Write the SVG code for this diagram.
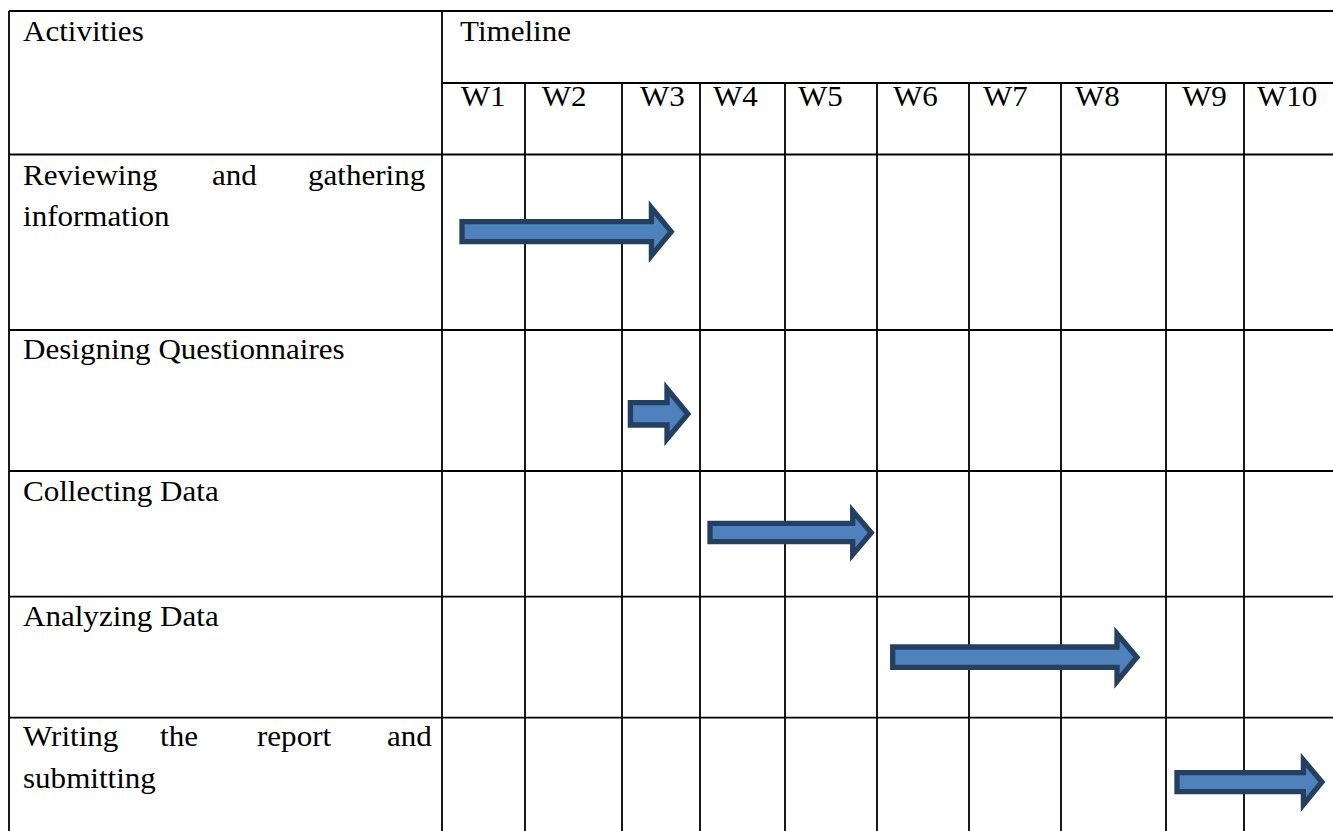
<svg xmlns="http://www.w3.org/2000/svg" width="1333" height="831" viewBox="0 0 1333 831">
<style>
.t{font-family:"Liberation Serif","Times New Roman",serif;font-size:28.5px;fill:#000}
.g line{stroke:#000;stroke-width:1.8}
.arr{fill:#4F81BD;stroke:#243F60;stroke-width:5.3;stroke-linejoin:miter;stroke-miterlimit:10}
</style>
<rect x="0" y="0" width="1333" height="831" fill="#fff"/>
<g id="grid" class="g">
<line x1="9" y1="11" x2="1333" y2="11"/>
<line x1="442" y1="83" x2="1333" y2="83"/>
<line x1="9" y1="154.5" x2="1333" y2="154.5"/>
<line x1="9" y1="330" x2="1333" y2="330"/>
<line x1="9" y1="471" x2="1333" y2="471"/>
<line x1="9" y1="596.7" x2="1333" y2="596.7"/>
<line x1="9" y1="717.7" x2="1333" y2="717.7"/>
<line x1="9" y1="11" x2="9" y2="831"/>
<line x1="442" y1="11" x2="442" y2="831"/>
<line x1="525" y1="83" x2="525" y2="831"/>
<line x1="622" y1="83" x2="622" y2="831"/>
<line x1="700" y1="83" x2="700" y2="831"/>
<line x1="785" y1="83" x2="785" y2="831"/>
<line x1="877" y1="83" x2="877" y2="831"/>
<line x1="969" y1="83" x2="969" y2="831"/>
<line x1="1061" y1="83" x2="1061" y2="831"/>
<line x1="1166" y1="83" x2="1166" y2="831"/>
<line x1="1244" y1="83" x2="1244" y2="831"/>
</g>
<g id="header">
<text class="t" transform="translate(23 41) scale(1.09 1)">Activities</text>
<text class="t" transform="translate(460 41) scale(1.09 1)">Timeline</text>
<text class="t" transform="translate(460.7 106) scale(1.09 1)">W1</text>
<text class="t" transform="translate(541.7 106) scale(1.09 1)">W2</text>
<text class="t" transform="translate(640 106) scale(1.09 1)">W3</text>
<text class="t" transform="translate(713 106) scale(1.09 1)">W4</text>
<text class="t" transform="translate(798 106) scale(1.09 1)">W5</text>
<text class="t" transform="translate(893 106) scale(1.09 1)">W6</text>
<text class="t" transform="translate(983 106) scale(1.09 1)">W7</text>
<text class="t" transform="translate(1075 106) scale(1.09 1)">W8</text>
<text class="t" transform="translate(1182 106) scale(1.09 1)">W9</text>
<text class="t" transform="translate(1257 106) scale(1.09 1)">W10</text>
</g>
<g id="row1">
<text class="t" transform="translate(23 185) scale(1.09 1)">Reviewing</text>
<text class="t" transform="translate(212 185) scale(1.09 1)">and</text>
<text class="t" transform="translate(308 185) scale(1.09 1)">gathering</text>
<text class="t" transform="translate(23 226) scale(1.09 1)">information</text>
</g>
<g id="row2">
<text class="t" transform="translate(23 359) scale(1.09 1)">Designing Questionnaires</text>
</g>
<g id="row3">
<text class="t" transform="translate(23 501) scale(1.09 1)">Collecting Data</text>
</g>
<g id="row4">
<text class="t" transform="translate(23 626) scale(1.09 1)">Analyzing Data</text>
</g>
<g id="row5">
<text class="t" transform="translate(23 746) scale(1.09 1)">Writing</text>
<text class="t" transform="translate(160 746) scale(1.09 1)">the</text>
<text class="t" transform="translate(257 746) scale(1.09 1)">report</text>
<text class="t" transform="translate(387 746) scale(1.09 1)">and</text>
<text class="t" transform="translate(23 788) scale(1.09 1)">submitting</text>
</g>
<g id="connectors">
<path class="arr" d="M462,221.7 H651.4 V207.7 L671.2,231.7 L651.4,255.6 V241.6 H462 Z"/>
<path class="arr" d="M630.4,402.7 H667 V388.7 L687.9,414 L667,439 V425 H630.4 Z"/>
<path class="arr" d="M710,523.4 H852.7 V511 L871.2,532.7 L852.7,554.6 V541.6 H710 Z"/>
<path class="arr" d="M892.7,647 H1117 V633.7 L1136.9,657.3 L1117,681.3 V667.3 H892.7 Z"/>
<path class="arr" d="M1177,772.7 H1303.4 V760 L1321.9,782 L1303.4,804.6 V791.6 H1177 Z"/>
</g>
</svg>
